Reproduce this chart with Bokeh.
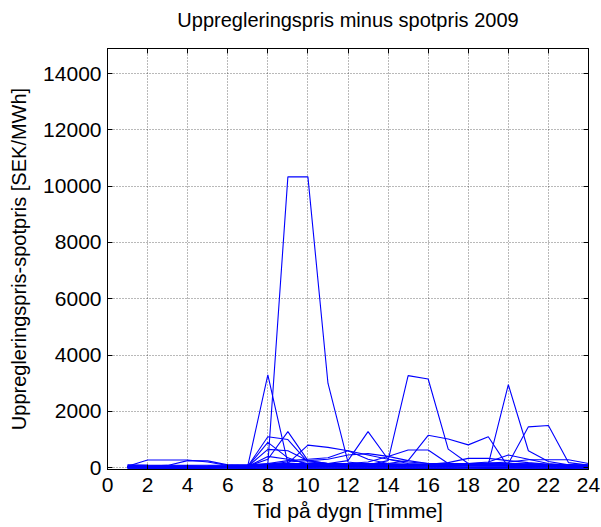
from bokeh.plotting import figure
from bokeh.models import Range1d, LinearAxis, FixedTicker
from bokeh.embed import file_html
from bokeh.resources import INLINE

hours = list(range(1, 25))
x_ticks = [0, 2, 4, 6, 8, 10, 12, 14, 16, 18, 20, 22, 24]
y_ticks = [0, 2000, 4000, 6000, 8000, 10000, 12000, 14000]

# notable days (SEK/MWh), hour 1..24
day_spike = [40, 30, 30, 40, 50, 60, 80, 120, 10330, 10330, 3000, 200, 120, 100, 90, 80, 90, 100, 110, 120, 100, 80, 60, 40]
day_h8 = [30, 25, 20, 25, 30, 40, 60, 3300, 150, 100, 90, 80, 70, 60, 60, 70, 80, 90, 100, 90, 80, 60, 40, 30]
day_h15 = [20, 15, 15, 20, 25, 30, 50, 80, 100, 110, 120, 110, 100, 250, 3270, 3150, 660, 150, 120, 100, 90, 70, 50, 30]
day_h20 = [30, 20, 20, 25, 30, 40, 60, 90, 110, 120, 110, 100, 90, 80, 90, 100, 120, 150, 120, 2950, 600, 220, 100, 60]
day_h22 = [20, 15, 15, 20, 25, 30, 50, 70, 90, 100, 90, 80, 70, 70, 80, 90, 110, 130, 150, 150, 1450, 1500, 180, 90]
day_h13 = [25, 20, 20, 25, 30, 40, 60, 90, 120, 140, 150, 250, 1280, 300, 150, 120, 110, 100, 90, 80, 70, 60, 50, 30]
day_eve = [30, 25, 25, 30, 35, 40, 60, 90, 110, 120, 130, 140, 150, 150, 250, 1150, 1020, 810, 1100, 20, 150, 100, 70, 40]
day_mid = [20, 15, 15, 20, 25, 30, 50, 80, 100, 110, 120, 150, 200, 400, 630, 630, 150, 100, 90, 80, 70, 60, 50, 30]
day_h10 = [25, 20, 20, 25, 30, 40, 60, 100, 150, 800, 720, 600, 300, 150, 120, 110, 100, 90, 80, 80, 70, 60, 50, 30]
day_m8a = [30, 25, 25, 30, 35, 40, 50, 1100, 1000, 200, 150, 130, 120, 110, 100, 100, 110, 120, 130, 120, 100, 80, 60, 40]
day_m9a = [30, 25, 25, 30, 35, 40, 50, 300, 1280, 250, 150, 130, 120, 110, 100, 100, 110, 120, 130, 120, 100, 80, 60, 40]
day_m8b = [25, 20, 20, 25, 30, 35, 40, 900, 350, 100, 90, 80, 80, 70, 70, 80, 90, 100, 110, 100, 90, 70, 50, 30]
day_m8c = [25, 20, 20, 25, 30, 35, 40, 650, 600, 250, 150, 120, 110, 100, 100, 110, 120, 130, 140, 130, 110, 90, 60, 40]
day_m8d = [20, 15, 15, 20, 25, 30, 40, 400, 300, 150, 120, 110, 100, 90, 90, 100, 110, 120, 130, 120, 100, 80, 50, 30]
day_noon = [25, 20, 20, 25, 30, 40, 60, 120, 200, 250, 300, 450, 500, 400, 250, 150, 120, 110, 100, 90, 80, 60, 50, 30]
day_late = [30, 25, 25, 30, 35, 40, 60, 90, 110, 120, 110, 100, 90, 90, 100, 120, 180, 330, 330, 250, 180, 120, 80, 50]
day_night = [30, 25, 25, 30, 35, 40, 60, 90, 100, 110, 100, 90, 80, 80, 90, 100, 120, 140, 160, 200, 280, 280, 280, 150]
day_early = [50, 270, 270, 270, 200, 80, 60, 80, 90, 100, 90, 80, 70, 70, 80, 90, 100, 110, 120, 110, 90, 70, 50, 30]
day_early2 = [40, 60, 80, 250, 240, 100, 60, 80, 90, 100, 90, 80, 70, 70, 80, 90, 100, 110, 120, 110, 90, 70, 50, 30]
day_h20b = [30, 25, 25, 30, 35, 40, 60, 90, 110, 120, 110, 100, 90, 90, 100, 110, 130, 150, 200, 450, 300, 150, 80, 50]
day_h12b = [25, 20, 20, 25, 30, 40, 60, 150, 250, 300, 350, 600, 450, 300, 200, 150, 130, 120, 110, 100, 90, 70, 50, 30]

# bulk of ordinary days forming the dense band near zero
base_a = [100, 90, 85, 80, 85, 95, 110, 140, 150, 145, 140, 135, 130, 125, 120, 125, 135, 150, 160, 155, 140, 120, 110, 100]
base_b = [80, 70, 65, 60, 65, 75, 90, 110, 120, 115, 110, 105, 100, 95, 90, 95, 105, 120, 130, 125, 110, 95, 85, 80]
base_c = [60, 50, 45, 40, 45, 55, 70, 90, 95, 90, 85, 80, 78, 75, 72, 75, 82, 95, 100, 98, 88, 75, 65, 55]
base_d = [40, 32, 28, 25, 28, 35, 50, 65, 70, 66, 62, 60, 58, 55, 52, 55, 60, 70, 75, 72, 64, 55, 45, 38]
base_e = [20, 14, 10, 8, 10, 16, 30, 45, 48, 45, 42, 40, 38, 36, 34, 36, 40, 48, 52, 50, 44, 36, 28, 20]
base_f = [0, -5, -8, -10, -8, -2, 10, 22, 25, 22, 20, 18, 16, 15, 14, 16, 20, 26, 30, 28, 22, 15, 8, 0]
base_g = [-20, -25, -28, -30, -28, -22, -10, 0, 2, 0, -2, -4, -6, -8, -9, -7, -3, 4, 8, 6, 0, -6, -12, -20]
base_h = [-40, -45, -48, -50, -48, -42, -30, -20, -18, -20, -22, -24, -26, -28, -30, -28, -24, -18, -14, -16, -22, -28, -34, -40]
base_i = [-60, -62, -65, -66, -65, -60, -50, -40, -38, -40, -42, -44, -46, -48, -50, -48, -44, -38, -34, -36, -42, -48, -54, -60]

all_days = [base_a, base_b, base_c, base_d, base_e, base_f, base_g, base_h, base_i,
            day_early, day_early2, day_late, day_night, day_noon, day_h12b, day_h20b,
            day_m8d, day_m8c, day_m8b, day_m9a, day_m8a, day_h10, day_mid, day_eve,
            day_h13, day_h22, day_h20, day_h15, day_h8, day_spike]

title_text = "Uppregleringspris minus spotpris 2009"
FONT = "Liberation Sans"

p = figure(width=600, height=527, output_backend="svg", toolbar_location=None,
           x_range=Range1d(0, 24), y_range=Range1d(-65, 14890),
           min_border_left=107, min_border_right=12, min_border_top=48, min_border_bottom=58)

for d in all_days:
    p.line(hours, d, line_color="#0000ff", line_width=1.1)

p.outline_line_color = "black"
p.outline_line_alpha = 1
p.background_fill_color = "white"
p.border_fill_color = "white"

xt = FixedTicker(ticks=x_ticks)
yt = FixedTicker(ticks=y_ticks)

for ax in p.xaxis:
    ax.ticker = xt
for ax in p.yaxis:
    ax.ticker = yt

p.xaxis.axis_label = "Tid på dygn [Timme]"
p.yaxis.axis_label = "Uppregleringspris-spotpris [SEK/MWh]"

for ax in list(p.xaxis) + list(p.yaxis):
    ax.major_tick_in = 5
    ax.major_tick_out = 0
    ax.minor_tick_in = 0
    ax.minor_tick_out = 0
    ax.axis_line_color = "black"
    ax.major_tick_line_color = "black"
    ax.major_label_text_font = FONT
    ax.major_label_text_font_size = "21px"
    ax.major_label_text_color = "black"
    ax.axis_label_text_font = FONT
    ax.axis_label_text_font_style = "normal"
    ax.axis_label_text_color = "black"

p.xaxis.axis_label_text_font_size = "21px"
p.yaxis.axis_label_text_font_size = "20px"
p.xaxis.major_label_standoff = 8
p.xaxis.axis_label_standoff = 4
p.yaxis.major_label_standoff = 6
p.yaxis.axis_label_standoff = 10

# top axis carries the ticks and the chart title
top = LinearAxis(ticker=FixedTicker(ticks=x_ticks), major_tick_in=5, major_tick_out=0,
                 minor_tick_in=0, minor_tick_out=0, major_label_text_color=None,
                 major_label_text_font_size="1px", major_label_standoff=0,
                 axis_line_color="black", major_tick_line_color="black",
                 axis_label=title_text, axis_label_text_font=FONT,
                 axis_label_text_font_size="20px", axis_label_text_font_style="normal",
                 axis_label_text_color="black", axis_label_standoff=18)
right = LinearAxis(ticker=FixedTicker(ticks=y_ticks), major_tick_in=5, major_tick_out=0,
                   minor_tick_in=0, minor_tick_out=0, major_label_text_color=None,
                   major_label_text_font_size="1px", major_label_standoff=0,
                   axis_line_color="black", major_tick_line_color="black")
p.add_layout(top, "above")
p.add_layout(right, "right")

p.xgrid.ticker = xt
p.ygrid.ticker = yt
for g in (p.xgrid, p.ygrid):
    g.grid_line_color = "black"
    g.grid_line_alpha = 0.55
    g.grid_line_dash = "1 2"
    g.grid_line_width = 1

open("out.html", "w").write(file_html(p, INLINE))
